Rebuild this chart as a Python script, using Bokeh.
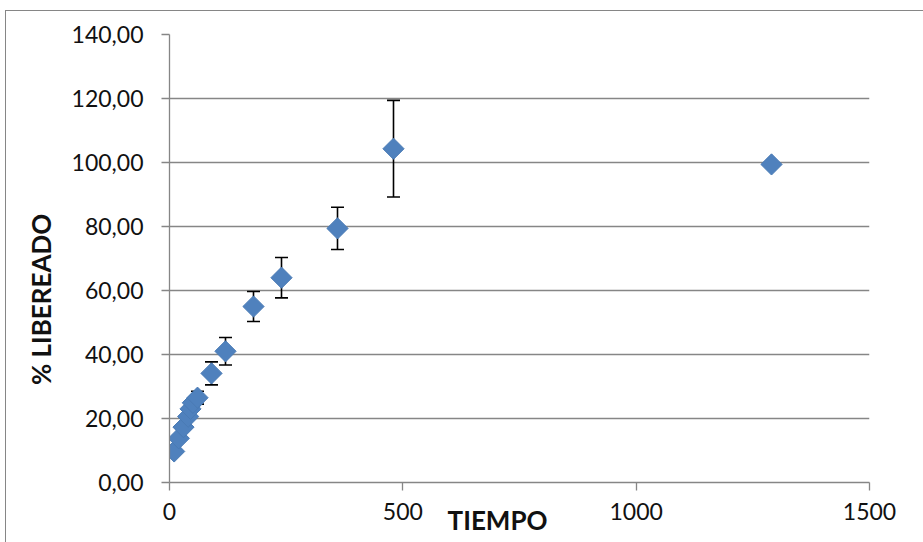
import math
from bokeh.plotting import figure
from bokeh.models import ColumnDataSource, Whisker, FixedTicker, Range1d, TeeHead, LinearAxis
from bokeh.embed import file_html
from bokeh.resources import INLINE

tiempo = [10, 20, 30, 40, 45, 50, 60, 90, 120, 180, 240, 360, 480, 1290]
liberado = [9.7, 13.8, 17.3, 20.6, 23.0, 24.9, 26.5, 34.1, 41.0, 55.0, 64.0, 79.4, 104.3, 99.4]
error = [0.5, 0.6, 0.7, 0.8, 0.9, 1.0, 2.0, 3.6, 4.3, 4.7, 6.3, 6.6, 15.1, 0.6]
x_ticks = [0, 500, 1000, 1500]
y_ticks = [0, 20, 40, 60, 80, 100, 120, 140]
x_title = "TIEMPO"
y_title = "% LIBEREADO"

src = ColumnDataSource(dict(
    x=tiempo, y=liberado,
    upper=[v + e for v, e in zip(liberado, error)],
    lower=[v - e for v, e in zip(liberado, error)],
))

GRAY = "#868686"
FONT = "Lato"

p = figure(width=918, height=532, output_backend="svg", toolbar_location=None,
           x_range=Range1d(x_ticks[0], x_ticks[-1]), y_range=Range1d(y_ticks[0], y_ticks[-1]),
           min_border_left=163, min_border_right=55, min_border_top=23, min_border_bottom=61,
           margin=(10, 0, 0, 5))
p.styles = {"border-top": "1px solid " + GRAY, "border-left": "1px solid " + GRAY}
p.outline_line_color = None
p.background_fill_color = "white"
p.border_fill_color = "white"

p.xgrid.grid_line_color = None
p.ygrid.grid_line_color = GRAY
p.ygrid.grid_line_width = 1.3

p.xaxis.ticker = FixedTicker(ticks=x_ticks)
p.yaxis.ticker = FixedTicker(ticks=y_ticks)
p.yaxis.major_label_overrides = {t: f"{t:.2f}".replace(".", ",") for t in y_ticks}
p.xaxis.major_label_overrides = {t: str(t) for t in x_ticks}

for ax in (p.xaxis, p.yaxis):
    ax.axis_line_color = GRAY
    ax.axis_line_width = 1.3
    ax.major_tick_line_color = GRAY
    ax.major_tick_line_width = 1.3
    ax.major_tick_out = 8
    ax.major_tick_in = 0
    ax.minor_tick_line_color = None
    ax.major_label_text_font = FONT
    ax.major_label_text_font_size = "23px"
    ax.major_label_text_color = "#111111"
p.yaxis.major_label_standoff = 18
p.xaxis.major_label_standoff = 12

# axis titles: Excel places them off-centre, so they are drawn as single
# tick labels of label-only axes at the reference's title positions
X_TITLE_AT = 703
Y_TITLE_AT = 84


def title_axis(pos, text, standoff, orientation="horizontal"):
    ax = LinearAxis(ticker=FixedTicker(ticks=[pos]), major_label_overrides={pos: text},
                    axis_line_color=None, major_tick_line_color=None,
                    minor_tick_line_color=None, major_tick_in=0, major_tick_out=0,
                    major_label_standoff=standoff, major_label_orientation=orientation,
                    major_label_text_font=FONT, major_label_text_font_style="bold",
                    major_label_text_font_size="26px", major_label_text_color="#111111")
    return ax


p.add_layout(title_axis(X_TITLE_AT, x_title, -19), "below")
p.add_layout(title_axis(Y_TITLE_AT, y_title, 27, math.pi / 2), "left")

wh = Whisker(base="x", upper="upper", lower="lower", source=src,
             line_color="black", line_width=1.6, level="underlay",
             upper_head=TeeHead(size=13, line_color="black", line_width=1.6),
             lower_head=TeeHead(size=13, line_color="black", line_width=1.6))
p.add_layout(wh)

p.scatter("x", "y", source=src, marker="square", size=15, angle=math.pi / 4,
          fill_color="#4F81BD", line_color="#4A7BB5", line_width=1)

open("out.html", "w").write(file_html(p, INLINE))
